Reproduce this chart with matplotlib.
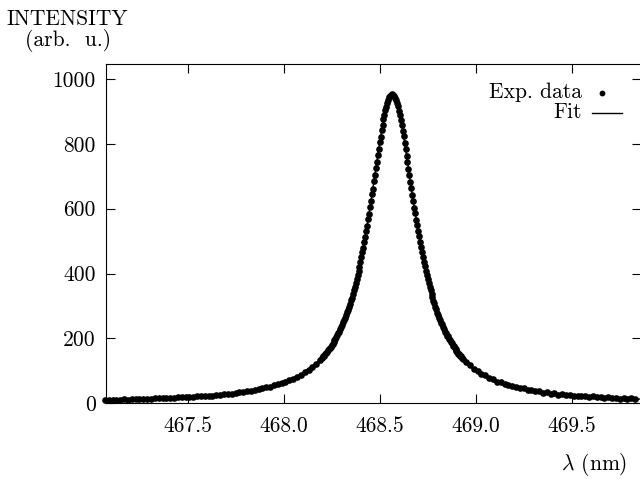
import matplotlib
matplotlib.use("Agg")
import matplotlib.pyplot as plt
from matplotlib.lines import Line2D

plt.rcParams['font.family'] = ['cmr10', 'DejaVu Serif']
plt.rcParams['mathtext.fontset'] = 'cm'
plt.rcParams['axes.formatter.use_mathtext'] = True
plt.rcParams['font.size'] = 15.5

# ---- experimental data (wavelength in nm, intensity in arb. u.) ----
exp_wl_left = [467.07, 467.09, 467.11, 467.13, 467.15, 467.17, 467.19, 467.21, 467.23, 467.25,
               467.27, 467.29, 467.31, 467.33, 467.35, 467.37, 467.39, 467.41, 467.43, 467.45,
               467.47, 467.49, 467.51, 467.53, 467.55, 467.57, 467.59, 467.61, 467.63, 467.65,
               467.67, 467.69, 467.71, 467.73, 467.75, 467.77, 467.79, 467.81, 467.83, 467.85,
               467.87, 467.89, 467.91, 467.93, 467.95, 467.97, 467.99, 468.01, 468.03, 468.05,
               468.07, 468.09, 468.11, 468.13, 468.15, 468.17, 468.19]
exp_int_left = [10, 10, 11, 11, 11, 12, 11, 12, 13, 13, 13, 14, 14, 15, 15, 16,
                16, 17, 17, 18, 18, 19, 20, 20, 21, 22, 23, 24, 24, 26, 27, 28,
                30, 30, 32, 34, 35, 37, 39, 42, 43, 46, 49, 51, 55, 59, 62, 67,
                71, 76, 81, 88, 96, 103, 112, 121, 134]

exp_wl_peak = [468.200, 468.205, 468.210, 468.215, 468.220, 468.225, 468.230, 468.235, 468.240, 468.245,
               468.250, 468.255, 468.260, 468.265, 468.270, 468.275, 468.280, 468.285, 468.290, 468.295,
               468.300, 468.305, 468.310, 468.315, 468.320, 468.325, 468.330, 468.335, 468.340, 468.345,
               468.350, 468.355, 468.360, 468.365, 468.370, 468.375, 468.380, 468.385, 468.390, 468.395,
               468.400, 468.405, 468.410, 468.415, 468.420, 468.425, 468.430, 468.435, 468.440, 468.445,
               468.450, 468.455, 468.460, 468.465, 468.470, 468.475, 468.480, 468.485, 468.490, 468.495,
               468.500, 468.505, 468.510, 468.515, 468.520, 468.525, 468.530, 468.535, 468.540, 468.545,
               468.550, 468.555, 468.560, 468.565, 468.570, 468.575, 468.580, 468.585, 468.590, 468.595,
               468.600, 468.605, 468.610, 468.615, 468.620, 468.625, 468.630, 468.635, 468.640, 468.645,
               468.650, 468.655, 468.660, 468.665, 468.670, 468.675, 468.680, 468.685, 468.690, 468.695,
               468.700, 468.705, 468.710, 468.715, 468.720, 468.725, 468.730, 468.735, 468.740, 468.745,
               468.750, 468.755, 468.760, 468.765, 468.770, 468.775, 468.780, 468.785, 468.790, 468.795,
               468.800, 468.805, 468.810, 468.815, 468.820, 468.825, 468.830, 468.835, 468.840, 468.845,
               468.850, 468.855, 468.860, 468.865, 468.870, 468.875, 468.880, 468.885, 468.890, 468.895,
               468.900, 468.905, 468.910, 468.915, 468.920, 468.925, 468.930, 468.935]
exp_int_peak = [140, 145, 146, 152, 154, 157, 163,
                166, 171, 174, 180, 184, 188, 195, 199, 204, 211, 216, 221, 229, 235, 241, 250,
                257, 263, 273, 280, 288, 298, 306, 317, 326, 336, 349, 359, 370, 384, 395, 409,
                421, 437, 450, 467, 480, 498, 513, 532, 548, 568, 584, 605, 623, 644, 662, 684,
                703, 725, 743, 765, 783, 805, 822, 842, 857, 875, 888, 904, 914, 927, 934, 943,
                946, 951, 953, 950, 948, 941, 936, 925, 916, 902, 890, 873, 859, 840, 824, 803,
                785, 763, 745, 723, 705, 682, 664, 642, 625, 603, 586, 566, 550, 530, 515, 496,
                482, 465, 452, 435, 423, 407, 396, 382, 372, 358, 349, 336, 327, 315, 308, 296,
                290, 279, 273, 263, 257, 248, 243, 234, 229, 221, 217, 209, 206, 198, 195, 188,
                185, 178, 176, 169, 167, 161, 159, 153, 152, 146, 145, 139, 138]

exp_wl_right = [468.95, 468.97, 468.99, 469.01, 469.03, 469.05, 469.07, 469.09, 469.11, 469.13,
                469.15, 469.17, 469.19, 469.21, 469.23, 469.25, 469.27, 469.29, 469.31, 469.33,
                469.35, 469.37, 469.39, 469.41, 469.43, 469.45, 469.47, 469.49, 469.51, 469.53,
                469.55, 469.57, 469.59, 469.61, 469.63, 469.65, 469.67, 469.69, 469.71, 469.73,
                469.75, 469.77, 469.79, 469.81, 469.83]
exp_int_right = [127, 118, 107,
                 100, 91, 86, 78, 74, 67, 65, 59, 57, 52, 51, 46, 46, 41, 41, 37,
                 37, 33, 34, 30, 31, 27, 28, 25, 26, 23, 24, 21, 22, 19, 21, 18,
                 19, 17, 18, 15, 17, 14, 16, 13, 15, 13]

# ---- fitted curve ----
fit_wl = [467.08, 467.18, 467.28, 467.38, 467.48, 467.58, 467.68, 467.78, 467.88, 467.98, 468.08, 468.18,
          468.20, 468.22, 468.24, 468.26, 468.28, 468.30, 468.32, 468.34, 468.36, 468.38,
          468.40, 468.42, 468.44, 468.46, 468.48, 468.50, 468.52, 468.54, 468.56, 468.58,
          468.60, 468.62, 468.64, 468.66, 468.68, 468.70, 468.72, 468.74, 468.76, 468.78,
          468.80, 468.82, 468.84, 468.86, 468.88, 468.90, 468.92, 468.94,
          469.0, 469.1, 469.2, 469.3, 469.4, 469.5, 469.6, 469.7, 469.8, 469.86]
fit_int = [10, 11, 13, 15, 18, 22, 27, 34, 45, 60, 85, 128,
           140, 154, 170, 189, 210, 235, 264, 297, 337, 383,
           436, 497, 567, 643, 724, 804, 874, 926, 950, 942,
           903, 841, 764, 683, 604, 531, 466, 408, 359, 316,
           280, 249, 222, 199, 179, 162, 147, 134,
           103, 71, 51, 39, 30, 24, 20, 17, 14, 13]

x_ticks = [467.5, 468.0, 468.5, 469.0, 469.5]
y_ticks = [0, 200, 400, 600, 800, 1000]

exp_wl = exp_wl_left + exp_wl_peak + exp_wl_right
exp_int = exp_int_left + exp_int_peak + exp_int_right
assert len(exp_wl) == len(exp_int)
assert len(fit_wl) == len(fit_int)

W, H = 640, 479
fig = plt.figure(figsize=(W / 100, H / 100), dpi=100)
ax = fig.add_axes([106 / W, (H - 403.3) / H, (641.5 - 106) / W, (403.3 - 64) / H])

MS = 4.8
ax.plot(fit_wl, fit_int, color='black', lw=1.0, zorder=2)
ax.plot(exp_wl, exp_int, 'o', color='black', ms=MS, mew=0, zorder=3, clip_on=False)

ax.set_xlim(467.0757, 469.863)
ax.set_ylim(0, 1046)
ax.set_xticks(x_ticks)
ax.set_xticklabels(['%.1f' % v for v in x_ticks])
ax.set_yticks(y_ticks)
ax.set_yticklabels([str(v) for v in y_ticks])
ax.tick_params(axis='both', direction='in', length=6.5, width=0.8, top=True, right=True, labelsize=15.5)
ax.tick_params(axis='x', pad=9.5)
ax.tick_params(axis='y', pad=7.5)
for s in ax.spines.values():
    s.set_linewidth(0.8)

def fx(px):
    return px / W

def fy(py):
    return (H - py) / H

fig.text(fx(67.5), fy(25), 'INTENSITY', ha='center', va='baseline')
fig.text(fx(68), fy(46.5), '(arb.  u.)', ha='center', va='baseline')
fig.text(fx(627), fy(470), r'$\lambda$ (nm)', ha='right', va='baseline')

# legend (gnuplot style: right-aligned text, sample to the right)
fig.text(fx(581.7), fy(97.5), 'Exp. data', ha='right', va='baseline')
fig.text(fx(581.7), fy(118.5), 'Fit', ha='right', va='baseline')
fig.add_artist(Line2D([fx(601.7)], [fy(93.3)], marker='o', color='black', ms=4.2, mew=0,
                      transform=fig.transFigure))
fig.add_artist(Line2D([fx(591.7), fx(621.7)], [fy(113.3), fy(113.3)], color='black', lw=1.0,
                      transform=fig.transFigure))

fig.savefig('out.png', dpi=100)
